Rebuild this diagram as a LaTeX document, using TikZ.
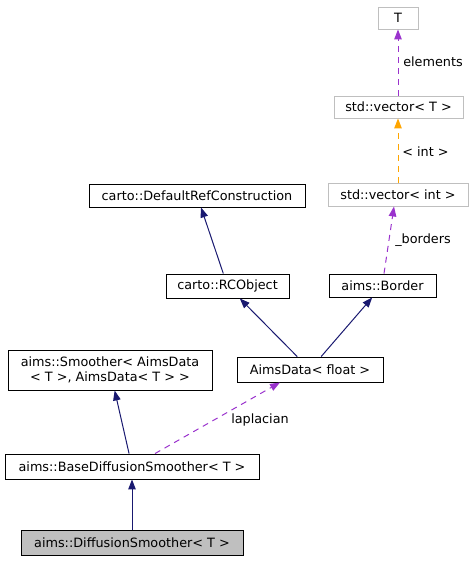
\documentclass[tikz,border=0pt]{standalone}
\usepackage{fontspec}
\setmainfont{DejaVu Sans}
\usetikzlibrary{arrows.meta}
\definecolor{navy}{HTML}{191970}
\definecolor{purp}{HTML}{9A32CD}
\definecolor{orng}{HTML}{FFA500}
\definecolor{lgray}{HTML}{BFBFBF}
\begin{document}
\begin{tikzpicture}[x=1pt,y=-1pt,
  box/.style={draw=black, line width=0.9pt, fill=white, inner sep=0pt, font=\fontsize{12.8}{15}\selectfont, text=black},
  gbox/.style={box, draw=lgray},
  inh/.style={draw=navy, line width=1pt, -{Triangle[length=10pt,width=7.5pt]}},
  usage/.style={draw=purp, line width=1pt, dash pattern=on 6pt off 5pt, -{Triangle[length=10pt,width=7.5pt]}},
  tmpl/.style={draw=orng, line width=1pt, dash pattern=on 6pt off 5pt, -{Triangle[length=10pt,width=7.5pt]}},
  lbl/.style={font=\fontsize{12.8}{15}\selectfont, inner sep=0pt}]
\useasboundingbox (0,0) rectangle (473,561);
\node[gbox, minimum width=40pt, minimum height=22pt] (T) at (398,18) {T};
\node[gbox, minimum width=129pt, minimum height=22pt] (vecT) at (398.5,107) {std::vector< T >};
\node[gbox, minimum width=140pt, minimum height=23pt] (vecInt) at (398,194.5) {std::vector< int >};
\node[box, minimum width=107pt, minimum height=23pt] (Border) at (382.5,285.5) {aims::Border};
\node[box, minimum width=216pt, minimum height=23pt] (DRC) at (197,195.5) {carto::DefaultRefConstruction};
\node[box, minimum width=123pt, minimum height=24pt] (RCO) at (227.5,286) {carto::RCObject};
\node[box, minimum width=204pt, minimum height=40pt, align=center] (Sm) at (110,370) {aims::Smoother< AimsData\\< T >, AimsData< T > >};
\node[box, minimum width=146pt, minimum height=25pt] (AD) at (310,369.5) {AimsData< float >};
\node[box, minimum width=254pt, minimum height=25pt] (BDS) at (132,466.5) {aims::BaseDiffusionSmoother< T >};
\node[box, fill=lgray, minimum width=222pt, minimum height=25pt] (DS) at (132,542.5) {aims::DiffusionSmoother< T >};
\draw[inh] (RCO) -- (DRC);
\draw[inh] (AD) -- (RCO);
\draw[inh] (AD) -- (Border);
\draw[inh] (BDS) -- (Sm);
\draw[inh] (DS) -- (BDS);
\draw[usage] ([xshift=23pt]BDS.north) -- ([xshift=-30pt]AD.south);
\node[lbl] (l1) at (260,420) {laplacian};
\draw[usage] ([xshift=1.5pt]Border.north) -- ([xshift=-4pt]vecInt.south);
\node[lbl] (l2) at (423,240) {\_borders};
\draw[tmpl] (vecInt.north) -- (vecInt.north |- vecT.south);
\node[lbl] (l3) at (425.5,152) {< int >};
\draw[usage] (vecT.north -| T.south) -- (T.south);
\node[lbl] (l4) at (433,62) {elements};
\end{tikzpicture}
\end{document}
